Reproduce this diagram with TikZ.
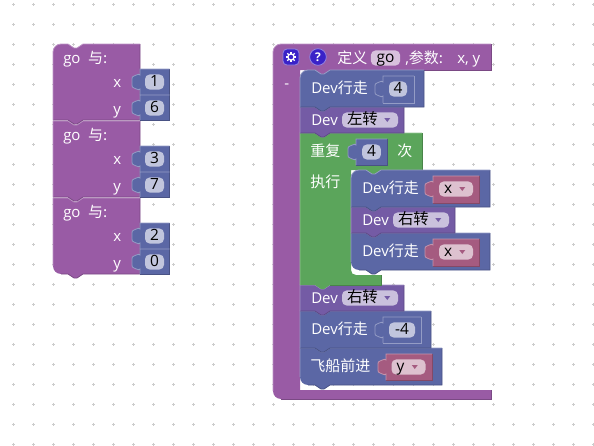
\documentclass[tikz,border=0pt]{standalone}
\usepackage{fontspec}
\setmainfont{Open Sans}
\newfontfamily\cjk{Noto Sans CJK SC}
\usetikzlibrary{calc}

\definecolor{procblock}{HTML}{995BA5}
\definecolor{moveblock}{HTML}{5B67A5}
\definecolor{turnblock}{HTML}{745BA5}
\definecolor{loopblock}{HTML}{5BA55B}
\definecolor{varblock}{HTML}{A55B80}
\definecolor{gridmark}{HTML}{CCCCCC}
\definecolor{iconblue}{HTML}{3A22C8}

\tikzset{
  notchr/.style={insert path={-- ++(6,4) -- ++(3,0) -- ++(6,-4)}},
  notchl/.style={insert path={-- ++(-6,4) -- ++(-3,0) -- ++(-6,-4)}},
  lbl/.style={font=\fontsize{11.25pt}{13pt}\selectfont, text=white, anchor=west, inner sep=0pt, text height=10pt, text depth=2.2pt},
  field/.style={font=\fontsize{11.6pt}{13pt}\selectfont, text=black, rounded corners=3.5pt, inner xsep=0pt, inner ysep=0.4pt, text height=8.6pt, text depth=1.9pt, align=center},
  numfield/.style={field, fill=moveblock!38!white},
  varfield/.style={field, fill=varblock!38!white, inner xsep=3.75pt, text width=18pt, align=left},
  dirfield/.style={field, fill=turnblock!38!white, inner xsep=3.75pt, text width=34.5pt, align=left},
}

% statement block: x1, y1, x2, y2, colour, top left radius, bottom left radius
\newcommand{\stackblock}[7]{
  \fill[#5] (#1,#2+#6) .. controls (#1,#2+#6*0.45) and (#1+#6*0.45,#2) .. (#1+#6,#2) -- (#1+15,#2) [notchr] -- (#3,#2) -- (#3,#4) -- (#1+30,#4) [notchl] -- (#1+#7,#4) .. controls (#1+#7*0.45,#4) and (#1,#4-#7*0.45) .. (#1,#4-#7) -- cycle;
  \draw[#5!80!black, line width=0.6pt] (#3,#2) -- (#3,#4) -- (#1+30,#4) [notchl] -- (#1+#7,#4);
  \draw[#5!65!white, line width=0.6pt] (#1,#4-#7) -- (#1,#2+#6) .. controls (#1,#2+#6*0.45) and (#1+#6*0.45,#2) .. (#1+#6,#2) -- (#1+15,#2) [notchr] -- (#3,#2);
}
% value block with its tab: x1, y1, x2, y2, colour, edge colour
\newcommand{\valueblock}[6]{
  \fill[#5] (#1,#2) -- (#3,#2) -- (#3,#4) -- (#1,#4) -- (#1,#2+20) .. controls (#1-2,#2+22) and (#1-4,#2+19) .. (#1-6,#2+19) .. controls (#1-8,#2+19) and (#1-8,#2+18) .. (#1-8,#2+13) .. controls (#1-8,#2+8) and (#1-8,#2+7) .. (#1-6,#2+7) .. controls (#1-4,#2+7) and (#1-2,#2+4) .. (#1,#2+6) -- cycle;
  \draw[#6, line width=0.6pt] (#3,#2) -- (#3,#4) -- (#1,#4);
  \draw[#5!65!white, line width=0.6pt] (#3,#2) -- (#1,#2) -- (#1,#2+6) .. controls (#1-2,#2+4) and (#1-4,#2+7) .. (#1-6,#2+7) .. controls (#1-8,#2+7) and (#1-8,#2+8) .. (#1-8,#2+13) .. controls (#1-8,#2+18) and (#1-8,#2+19) .. (#1-6,#2+19) .. controls (#1-4,#2+19) and (#1-2,#2+22) .. (#1,#2+20) -- (#1,#4);
}
% small arrow in a drop-down field
\newcommand{\droparrow}[2]{
  \fill[#2] ([shift={(-14,-2)}]#1.east) -- ++(6,0) -- ++(-3,4) -- cycle;
}

\begin{document}
\begin{tikzpicture}[x=0.75pt, y=-0.75pt]

\useasboundingbox (0,0) rectangle (594,446);

% Background grid
\foreach \gx in {0,...,29}
  \foreach \gy in {0,...,22}
    \draw[gridmark, line width=0.6pt] (13.5+20*\gx-1.7,4.5+20*\gy) -- ++(3.4,0) (13.5+20*\gx,4.5+20*\gy-1.7) -- ++(0,3.4);

% Call blocks on the left
\stackblock{53}{198}{140}{274}{procblock}{0}{8}
\stackblock{53}{121}{140}{197}{procblock}{0}{0}
\stackblock{53}{44}{140}{120}{procblock}{8}{0}

\valueblock{140}{69}{169.5}{95}{moveblock}{moveblock!80!black}
\valueblock{140}{95}{169.5}{120}{moveblock}{moveblock!80!black}
\valueblock{140}{146}{169.5}{172}{moveblock}{moveblock!80!black}
\valueblock{140}{172}{169.5}{197}{moveblock}{moveblock!80!black}
\valueblock{140}{223}{169.5}{249}{moveblock}{moveblock!80!black}
\valueblock{140}{249}{169.5}{274}{moveblock}{moveblock!80!black}

\node[lbl] (goa) at (63,58) {go\enspace{\cjk 与:}};
\node[lbl] (xa) at (113,82) {x};
\node[lbl] (ya) at (113,109) {y};
\node[numfield, minimum width=14.25pt] (xaval) at (154.5,82) {1};
\node[numfield, minimum width=14.25pt] (yaval) at (154.5,108) {6};

\node[lbl] (gob) at (63,135) {go\enspace{\cjk 与:}};
\node[lbl] (xb) at (113,159) {x};
\node[lbl] (yb) at (113,186) {y};
\node[numfield, minimum width=14.25pt] (xbval) at (154.5,159) {3};
\node[numfield, minimum width=14.25pt] (ybval) at (154.5,185) {7};

\node[lbl] (goc) at (63,212) {go\enspace{\cjk 与:}};
\node[lbl] (xc) at (113,236) {x};
\node[lbl] (yc) at (113,263) {y};
\node[numfield, minimum width=14.25pt] (xcval) at (154.5,236) {2};
\node[numfield, minimum width=14.25pt] (ycval) at (154.5,262) {0};

% Definition block
\fill[procblock] (273,52) .. controls (273,47.6) and (276.6,44) .. (281,44) -- (491,44) -- (491,70) -- (330,70) [notchl] -- (300,70) -- (300,390) -- (491,390) -- (491,399) -- (281,399) .. controls (276.6,399) and (273,395.4) .. (273,391) -- cycle;
\draw[procblock!80!black, line width=0.6pt] (491,44) -- (491,70) -- (330,70) (491,390) -- (491,399) -- (281,399);
\draw[procblock!65!white, line width=0.6pt] (273,391) -- (273,52) .. controls (273,47.6) and (276.6,44) .. (281,44) -- (491,44);

\node[draw=iconblue!55!white, fill=iconblue, rounded corners=3pt, minimum size=12pt, inner sep=0pt, line width=0.6pt] (gear) at (291,57) {};
\foreach \ang in {0,45,...,315}
  \draw[white, line width=0.9pt] (gear.center) ++(\ang:2.8) -- ++(\ang:2.4);
\draw[white, line width=0.9pt] (gear.center) circle (3.1);
\node[circle, fill=iconblue, draw=iconblue!55!white, line width=0.6pt, minimum size=12.5pt, inner sep=0pt, font=\fontsize{9pt}{10pt}\selectfont\bfseries, text=white] (help) at (318,57) {?};

\node[lbl] (deftext) at (337,58) {\cjk 定义};
\node[field, fill=procblock!38!white, minimum width=22pt] (defname) at (385.5,58) {go};
\node[lbl] (argtext) at (405,58) {,{\cjk 参数:}};
\node[lbl] (argnames) at (457,58) {x, y};
\node[lbl] (dash) at (284,83) {-};

% Main stack, lowest block first
\stackblock{300}{348}{442}{385}{moveblock}{0}{8}
\stackblock{300}{311}{431}{348}{moveblock}{0}{0}
\stackblock{300}{285}{404}{311}{turnblock}{0}{0}

% Repeat block
\fill[loopblock] (300,133) -- (315,133) [notchr] -- (422,133) -- (422,170) -- (381,170) [notchl] -- (351,170) -- (351,270) .. controls (351,273) and (353,275) .. (356,275) -- (381,275) -- (381,285) -- (330,285) [notchl] -- (300,285) -- cycle;
\draw[loopblock!80!black, line width=0.6pt] (422,133) -- (422,170) -- (381,170) (381,275) -- (381,285) -- (330,285);
\draw[loopblock!65!white, line width=0.6pt] (300,285) -- (300,133) -- (315,133) [notchr] -- (422,133);

\stackblock{351}{233}{490}{270}{moveblock}{0}{8}
\stackblock{351}{207}{455}{233}{turnblock}{0}{0}
\stackblock{351}{170}{490}{207}{moveblock}{8}{0}

\stackblock{300}{107}{404}{133}{turnblock}{0}{0}
\stackblock{300}{70}{424}{107}{moveblock}{8}{0}

% Values of the main stack
\valueblock{383}{76}{414}{103}{moveblock}{moveblock!65!white}
\valueblock{356}{139}{387}{165}{moveblock}{moveblock!80!black}
\valueblock{433}{176}{479}{203}{varblock}{varblock!80!black}
\valueblock{433}{239}{479}{266}{varblock}{varblock!80!black}
\valueblock{383}{317}{421}{343}{moveblock}{moveblock!65!white}
\valueblock{386}{354}{432}{380}{varblock}{varblock!80!black}

\node[lbl] (walka) at (311,88) {Dev{\cjk 行走}};
\node[numfield, minimum width=13.5pt] (walkaval) at (398,89) {4};
\node[lbl] (turna) at (311,120) {Dev};
\node[dirfield] (turnaval) at (370,120) {\cjk 左转};
\droparrow{turnaval}{turnblock}

\node[lbl] (repeat) at (310,151) {\cjk 重复};
\node[numfield, minimum width=14pt] (repeatval) at (371.5,152) {4};
\node[lbl] (times) at (397,151) {\cjk 次};
\node[lbl] (doit) at (310,182) {\cjk 执行};

\node[lbl] (walkb) at (362,188) {Dev{\cjk 行走}};
\node[varfield] (walkbval) at (456,189) {x};
\droparrow{walkbval}{varblock}
\node[lbl] (turnb) at (362,220) {Dev};
\node[dirfield] (turnbval) at (421,220) {\cjk 右转};
\droparrow{turnbval}{turnblock}
\node[lbl] (walkc) at (362,251) {Dev{\cjk 行走}};
\node[varfield] (walkcval) at (456,252) {x};
\droparrow{walkcval}{varblock}

\node[lbl] (turnc) at (311,298) {Dev};
\node[dirfield] (turncval) at (370,298) {\cjk 右转};
\droparrow{turncval}{turnblock}
\node[lbl] (walkd) at (311,329) {Dev{\cjk 行走}};
\node[numfield, minimum width=19.5pt] (walkdval) at (402,330) {-4};
\node[lbl] (ship) at (310,366) {\cjk 飞船前进};
\node[varfield] (shipval) at (408.5,367) {y};
\droparrow{shipval}{varblock}

\end{tikzpicture}
\end{document}
